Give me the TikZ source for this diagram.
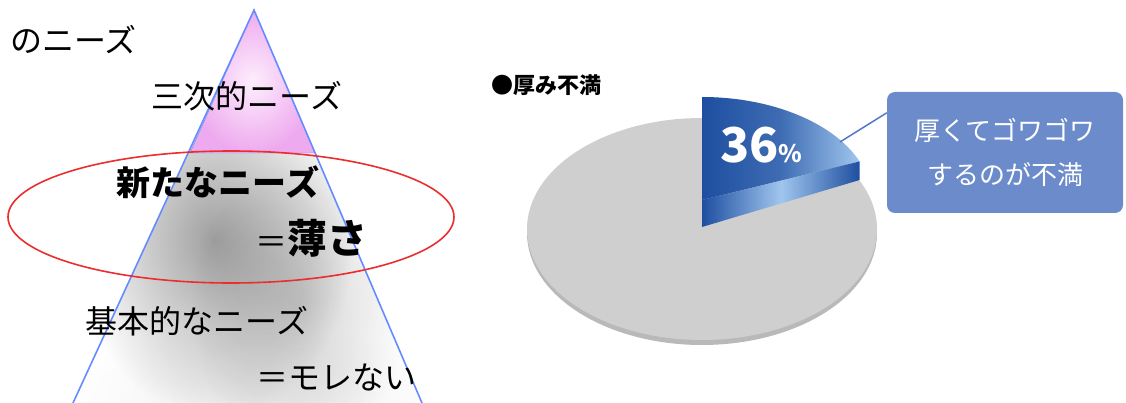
\documentclass[tikz,border=0pt]{standalone}
\usepackage{fontspec}
\setmainfont{Noto Sans CJK JP}
\usetikzlibrary{positioning}
\definecolor{trline}{RGB}{100,140,255}
\definecolor{ovalred}{RGB}{235,45,45}
\definecolor{pinkout}{RGB}{238,170,238}
\definecolor{pinkin}{RGB}{253,238,253}
\definecolor{piegray}{RGB}{207,207,207}
\definecolor{pierim}{RGB}{185,185,185}
\definecolor{wedgedark}{RGB}{30,78,160}
\definecolor{wedgelight}{RGB}{160,198,238}
\definecolor{boxblue}{RGB}{108,139,203}
\definecolor{leadblue}{RGB}{80,120,200}
\begin{document}
\begin{tikzpicture}[x=1pt,y=-1pt,
  need/.style={inner sep=0pt,font=\fontsize{32}{32}\selectfont},
  needbold/.style={inner sep=0pt,font=\fontsize{34}{34}\selectfont\bfseries},
  callout/.style={fill=boxblue,rounded corners=8pt,text=white,align=center,
    inner sep=0pt,font=\fontsize{26}{44}\selectfont}]
\useasboundingbox (0,0) rectangle (1126,403);
% pyramid
\begin{scope}[blend mode=multiply]
\clip (254,10) -- (73,403) -- (422,403) -- cycle;
\shade[inner color=gray!75,outer color=white] (214,240) ellipse (140 and 180);
\shade[inner color=gray!35,outer color=white] (300,305) ellipse (110 and 150);
\shade[inner color=gray!12,outer color=white] (260,395) ellipse (200 and 70);
\end{scope}
\shade[inner color=pinkin,outer color=pinkout,draw=trline] (254,10) -- (190,153) -- (315,153) -- cycle;
\draw[trline,line width=1.6pt] (73,403) -- (254,10) -- (422,403);
\draw[ovalred,line width=1.6pt] (231,217) ellipse (223 and 66);
\node[need,anchor=west] (upper) at (10,40) {のニーズ};
\node[need] (third) at (247,96) {三次的ニーズ};
\node[needbold] (newneed) at (218,182) {新たなニーズ};
\node[need,anchor=west] (thin) at (255,238) {＝{\fontsize{40}{40}\selectfont\bfseries 薄さ}};
\node[need] (basic) at (197,321) {基本的なニーズ};
\node[need] (noleak) at (336,377) {＝モレない};
% pie
\node[anchor=west,inner sep=0pt,font=\fontsize{22}{22}\selectfont\bfseries] (title) at (491,85) {●厚み不満};
\fill[pierim] (702,233) ellipse (175 and 112);
\fill[piegray] (702,229) ellipse (175 and 111);
\shade[left color=wedgedark,right color=wedgelight,middle color=wedgedark!75!wedgelight]
  (702,200) -- (702,97) arc[start angle=-90,end angle=-22,x radius=170,y radius=103] -- cycle;
\shade[left color=wedgedark,right color=wedgedark,middle color=wedgelight]
  (702,200) -- (859.6,161.4) -- (859.6,180) -- (702,227) -- cycle;
\node[anchor=base west,inner sep=0pt,text=white,font=\fontsize{48}{48}\selectfont\bfseries] (pct) at (720,163)
  {36{\fontsize{24}{24}\selectfont\%}};
\node[callout,minimum width=236pt,minimum height=121pt] (box) at (1005,152.5) {厚くてゴワゴワ\\するのが不満};
\coordinate (tip) at (840,142);
\draw[leadblue,line width=1.5pt] ([yshift=-21pt]box.north west) -- (tip);
\end{tikzpicture}
\end{document}
